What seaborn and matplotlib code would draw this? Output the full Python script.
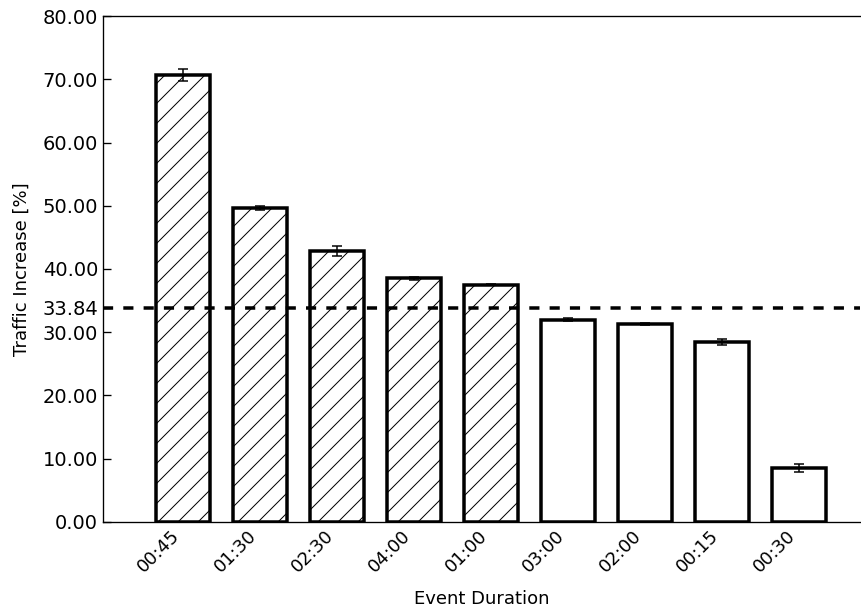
import numpy as np
import pandas as pd
import seaborn as sns
import matplotlib
matplotlib.use("Agg")
import matplotlib.pyplot as plt

# data
durations = ["00:45", "01:30", "02:30", "04:00", "01:00", "03:00", "02:00", "00:15", "00:30"]
increase = [70.7, 49.7, 42.85, 38.5, 37.5, 32.0, 31.3, 28.5, 8.5]
errors = [0.95, 0.3, 0.75, 0.2, 0.1, 0.2, 0.1, 0.5, 0.6]
mean_increase = 33.84

df = pd.DataFrame({"duration": durations, "increase": increase})

# dpi 120 so the hatch spacing comes out like the reference; sizes are in points
DPI = 120

sns.set_style("ticks", rc={"text.color": "black", "axes.labelcolor": "black",
                           "xtick.color": "black", "ytick.color": "black"})
plt.rcParams["font.family"] = ["DejaVu Sans"]
plt.rcParams["hatch.linewidth"] = 0.6

fig = plt.figure(figsize=(861 / DPI, 611 / DPI), dpi=DPI)
ax = fig.add_axes([0.1196, 0.1457, 0.8792, 0.8281])

sns.barplot(data=df, x="duration", y="increase", order=durations,
            color="white", edgecolor="black", linewidth=2.1, width=0.7,
            errorbar=None, ax=ax)

# hatch the bars that lie above the mean
for patch, val in zip(ax.patches, increase):
    if val > mean_increase:
        patch.set_hatch("//")

ax.errorbar(np.arange(len(durations)), increase, yerr=errors, fmt="none",
            ecolor="black", elinewidth=0.9, capsize=3, capthick=0.9, zorder=5)

ax.axhline(mean_increase, color="black", linestyle=(0, (2.9, 2.9)), linewidth=2.1, zorder=6)

ax.set_xlim(-1.04, 8.79)
ax.set_ylim(0, 80)
yticks = [0, 10, 20, 30, mean_increase, 40, 50, 60, 70, 80]
ax.set_yticks(yticks)
ax.set_yticklabels([f"{t:.2f}" for t in yticks], fontsize=11.7)
ax.set_xticks(range(len(durations)))
ax.set_xticklabels(durations, rotation=45, ha="right", fontsize=10.8)
ax.tick_params(direction="in", length=4.8, width=0.8, pad=2.9, top=False, right=False)
ax.set_xlabel("Event Duration", fontsize=10.8, labelpad=8.3)
ax.set_ylabel("Traffic Increase [%]", fontsize=10.8, labelpad=6.7)
for side in ["top", "left", "bottom"]:
    ax.spines[side].set_linewidth(0.8)
    ax.spines[side].set_color("black")
ax.spines["right"].set_visible(False)

fig.savefig("out.png", dpi=DPI)
